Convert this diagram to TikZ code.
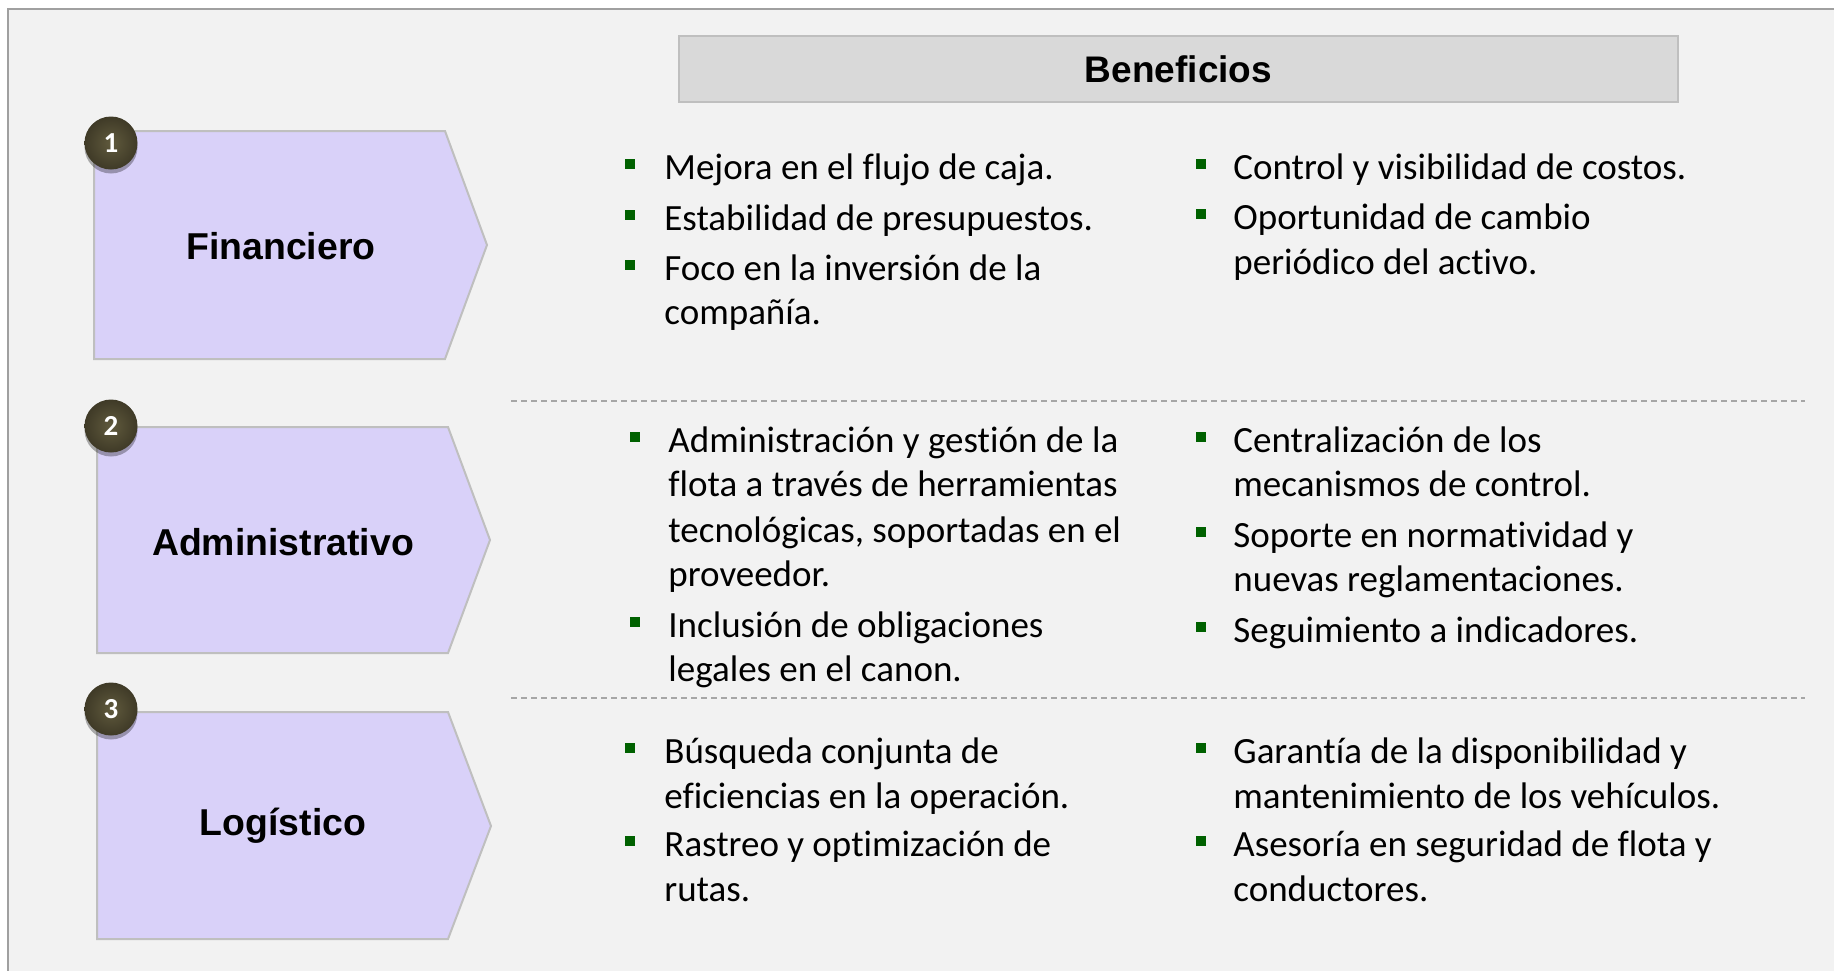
\documentclass[tikz,border=0pt]{standalone}
\usepackage{fontspec}
\setmainfont{Carlito}[Ligatures={NoCommon,NoContextual},Contextuals=NoAlternate]
\newfontfamily\arialfont{Liberation Sans}
\usetikzlibrary{shadows}
\definecolor{bgc}{HTML}{F2F2F2}
\definecolor{framec}{HTML}{A0A0A0}
\definecolor{penfill}{HTML}{D9D1F9}
\definecolor{penline}{HTML}{BFBFBF}
\definecolor{headfill}{HTML}{D9D9D9}
\definecolor{bulgreen}{HTML}{006100}
\definecolor{ballin}{HTML}{605A3D}
\definecolor{ballout}{HTML}{3F3A27}
\definecolor{dashc}{HTML}{A6A6A6}
\tikzset{
  body/.style={anchor=base west, inner sep=0pt, font=\fontsize{18.5}{22}\selectfont, text=black},
  bul/.style={fill=bulgreen, minimum size=4.6pt, inner sep=0pt, draw=none},
  penta/.style={fill=penfill, draw=penline, line width=1pt},
  lab/.style={font=\arialfont\bfseries\fontsize{18.7}{22}\selectfont, inner sep=0pt},
  numball/.style={circle, minimum size=26.5pt, inner sep=0pt, shading=radial, inner color=ballin, outer color=ballout, draw=none,
    drop shadow={shadow xshift=0pt, shadow yshift=-2pt, opacity=0.3, fill=black},
    text=white, font=\bfseries\fontsize{14.5}{16}\selectfont},
  sep/.style={draw=dashc, line width=0.6pt, dash pattern=on 3pt off 2pt},
}
\begin{document}
\begin{tikzpicture}[x=0.5pt,y=-0.5pt]
\useasboundingbox (0,0) rectangle (1834,970);
\fill[white] (0,0) rectangle (1834,970);
\begin{scope}
\clip (0,0) rectangle (1834,970);
\draw[fill=bgc, draw=framec, line width=1.2pt] (8,9) rectangle (1860,1000);
\end{scope}

% header
\node[draw=penline, fill=headfill, line width=1pt, minimum width=499.5pt, minimum height=33pt, inner sep=0pt,
  font=\arialfont\bfseries\fontsize{18.5}{22}\selectfont] (head) at (1178.5,69) {Beneficios};

% separators
\coordinate (s1a) at (511,401); \coordinate (s1b) at (1805,401);
\coordinate (s2a) at (511,698); \coordinate (s2b) at (1805,698);
\draw[sep] (s1a) -- (s1b);
\draw[sep] (s2a) -- (s2b);

% pentagons
\draw[penta] (94,131) -- (445,131) -- (487,245) -- (445,359) -- (94,359) -- cycle;
\draw[penta] (97,427) -- (448,427) -- (490,540) -- (448,653) -- (97,653) -- cycle;
\draw[penta] (97,712) -- (448,712) -- (491,826) -- (448,939) -- (97,939) -- cycle;
\node[lab] (l1) at (281,246) {Financiero};
\node[lab] (l2) at (283,542) {Administrativo};
\node[lab] (l3) at (283,826) {Logístico};

% number balls
\node[numball] (n1) at (111,143) {1};
\node[numball] (n2) at (111,426) {2};
\node[numball] (n3) at (111,709) {3};

% row 1 left
\node[bul] (b11) at (630,164) {};
\node[body] (t11) at (664,179) {Mejora en el flujo de caja.};
\node[bul] (b12) at (630,215) {};
\node[body] (t12) at (664,230) {Estabilidad de presupuestos.};
\node[bul] (b13) at (630,265) {};
\node[body] (t13) at (664,280) {Foco en la inversión de la};
\node[body] (t13b) at (664,324) {compañía.};
% row 1 right
\node[bul] (b14) at (1201,164) {};
\node[body] (t14) at (1233,179) {Control y visibilidad de costos.};
\node[bul] (b15) at (1201,214) {};
\node[body] (t15) at (1233,229) {Oportunidad de cambio};
\node[body] (t15b) at (1233,274) {periódico del activo.};

% row 2 left
\node[bul] (b21) at (635,437) {};
\node[body] (t21) at (668,452) {Administración y gestión de la};
\node[body] (t21b) at (668,496) {flota a través de herramientas};
\node[body] (t21c) at (668,542) {tecnológicas, soportadas en el};
\node[body] (t21d) at (668,586) {proveedor.};
\node[bul] (b22) at (635,622) {};
\node[body] (t22) at (668,637) {Inclusión de obligaciones};
\node[body] (t22b) at (668,681) {legales en el canon.};
% row 2 right
\node[bul] (b23) at (1201,437) {};
\node[body] (t23) at (1233,452) {Centralización de los};
\node[body] (t23b) at (1233,496) {mecanismos de control.};
\node[bul] (b24) at (1201,532) {};
\node[body] (t24) at (1233,547) {Soporte en normatividad y};
\node[body] (t24b) at (1233,591) {nuevas reglamentaciones.};
\node[bul] (b25) at (1201,627) {};
\node[body] (t25) at (1233,642) {Seguimiento a indicadores.};

% row 3 left
\node[bul] (b31) at (630,748) {};
\node[body] (t31) at (664,763) {Búsqueda conjunta de};
\node[body] (t31b) at (664,808) {eficiencias en la operación.};
\node[bul] (b32) at (630,841) {};
\node[body] (t32) at (664,856) {Rastreo y optimización de};
\node[body] (t32b) at (664,901) {rutas.};
% row 3 right
\node[bul] (b33) at (1201,748) {};
\node[body] (t33) at (1233,763) {Garantía de la disponibilidad y};
\node[body] (t33b) at (1233,808) {mantenimiento de los vehículos.};
\node[bul] (b34) at (1201,841) {};
\node[body] (t34) at (1233,856) {Asesoría en seguridad de flota y};
\node[body] (t34b) at (1233,901) {conductores.};
\end{tikzpicture}
\end{document}
